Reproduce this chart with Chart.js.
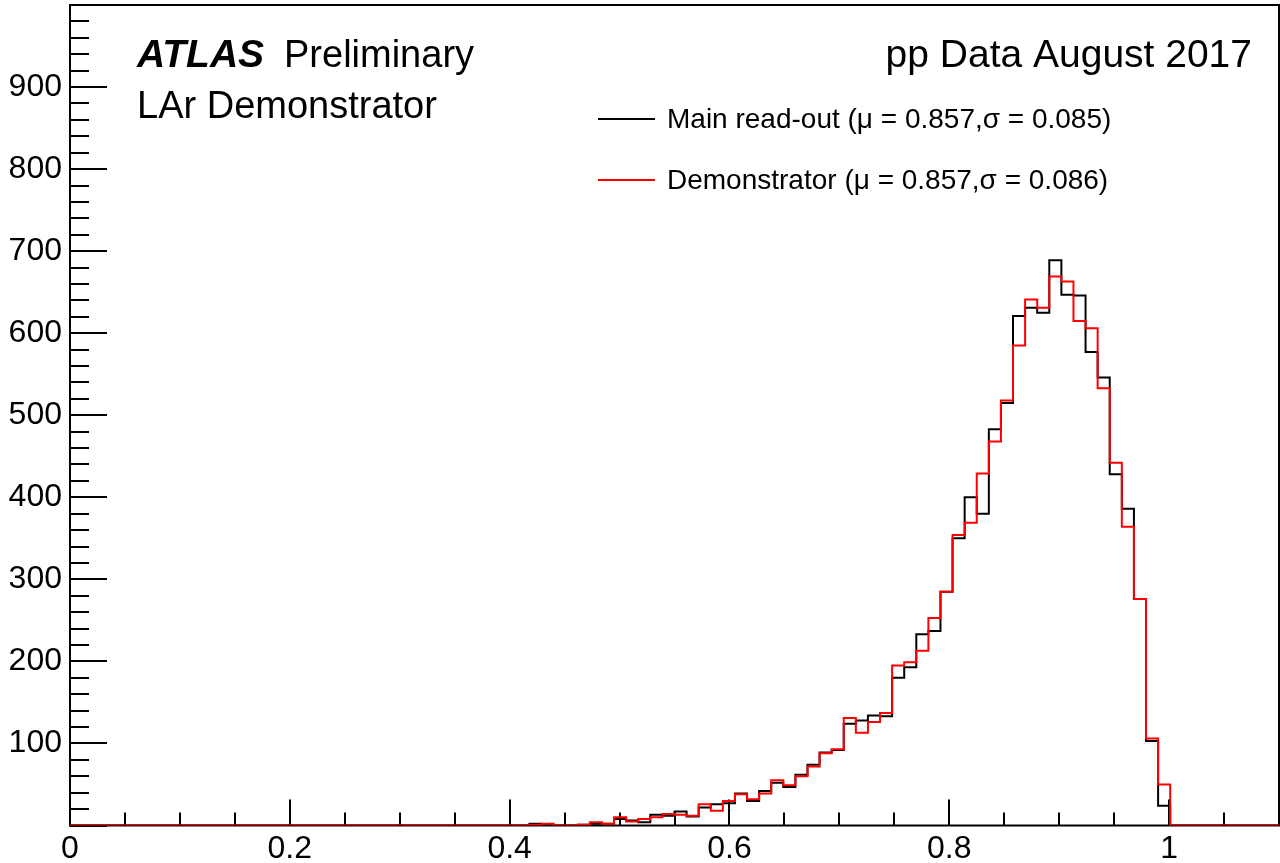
<!DOCTYPE html>
<html>
<head>
<meta charset="utf-8">
<script src="https://cdn.jsdelivr.net/npm/chart.js@4.4.1/dist/chart.umd.min.js"></script>
<style>
  html, body { margin: 0; padding: 0; background: #fff; }
  #wrap { width: 1280px; height: 863px; position: relative; }
</style>
</head>
<body>
<div id="wrap"><canvas id="hist"></canvas></div>
<script>
// histogram binning: 100 bins from 0 to 1.1
const binLow = 0;
const binWidth = 0.011;

// bin contents, bin 0 .. bin 99
const mainReadout = [
    0, 0, 0, 0, 0, 0, 0, 0, 0, 0,
    0, 0, 0, 0, 0, 0, 0, 0, 0, 0,
    0, 0, 0, 0, 0, 0, 0, 0, 0, 0,
    0, 0, 0, 0, 0, 0, 0, 0, 2, 1,
    0, 0, 1, 2, 2, 8, 6, 4, 13, 12,
    17, 11, 22, 26, 27, 39, 30, 42, 52, 47,
    62, 74, 89, 92, 124, 128, 134, 133, 180, 193,
    233, 237, 285, 350, 400, 380, 483, 515, 621, 631,
    625, 689, 647, 646, 577, 546, 428, 386, 276, 103,
    24, 0, 0, 0, 0, 0, 0, 0, 0, 0
];
const demonstrator = [
    0, 0, 0, 0, 0, 0, 0, 0, 0, 0,
    0, 0, 0, 0, 0, 0, 0, 0, 0, 0,
    0, 0, 0, 0, 0, 0, 0, 0, 0, 0,
    0, 0, 0, 0, 0, 0, 0, 0, 1, 2,
    0, 0, 1, 4, 2, 10, 5, 8, 10, 14,
    13, 12, 26, 18, 30, 38, 32, 39, 55, 49,
    60, 72, 88, 93, 131, 113, 126, 137, 195, 199,
    213, 253, 285, 354, 369, 429, 468, 518, 585, 641,
    631, 669, 663, 615, 606, 533, 442, 364, 276, 106,
    50, 0, 0, 0, 0, 0, 0, 0, 0, 0
];

const xTickValues = [0, 0.2, 0.4, 0.6, 0.8, 1];
const xTickLabels = ["0", "0.2", "0.4", "0.6", "0.8", "1"];
const yTickValues = [100, 200, 300, 400, 500, 600, 700, 800, 900];
const yTickLabels = ["100", "200", "300", "400", "500", "600", "700", "800", "900"];

const legendLabels = [
    "Main read-out (\u03bc = 0.857,\u03c3 = 0.085)",
    "Demonstrator (\u03bc = 0.857,\u03c3 = 0.086)"
];

const FONT = "'Liberation Sans', Arial, Helvetica, sans-serif";

// left bin edges plus the upper edge of the last bin, drawn as steps
function toSteps(contents) {
    const pts = contents.map((v, i) => ({ x: binLow + i * binWidth, y: v }));
    pts.push({ x: binLow + contents.length * binWidth, y: contents[contents.length - 1] });
    return pts;
}

// ROOT-like frame with inward tick marks
const rootFrame = {
    id: "rootFrame",
    beforeDatasetsDraw(chart) {
        const { ctx, chartArea: a, scales: { x, y } } = chart;
        ctx.save();
        ctx.strokeStyle = "#000";
        ctx.lineWidth = 2;
        ctx.strokeRect(a.left, a.top, a.right - a.left, a.bottom - a.top);

        ctx.beginPath();
        for (let k = 0; k <= 22; k++) {
            const v = k * 0.05;
            const px = Math.round(x.getPixelForValue(v));
            const len = (k % 4 === 0) ? 26 : 13;
            ctx.moveTo(px, a.bottom);
            ctx.lineTo(px, a.bottom - len);
        }
        for (let k = 0; k <= 50; k++) {
            const v = k * 20;
            const py = Math.round(y.getPixelForValue(v));
            const len = (k % 5 === 0) ? 37 : 19;
            ctx.moveTo(a.left, py);
            ctx.lineTo(a.left + len, py);
        }
        ctx.stroke();
        ctx.restore();
    },
    afterDatasetsDraw(chart) {
        const { ctx } = chart;
        ctx.save();
        ctx.fillStyle = "#000";
        ctx.textBaseline = "alphabetic";

        ctx.font = "italic bold 39px " + FONT;
        ctx.fillText("ATLAS", 137, 67);
        ctx.font = "38px " + FONT;
        ctx.fillText("Preliminary", 284, 67);
        ctx.fillText("LAr Demonstrator", 137, 118);
        ctx.font = "39px " + FONT;
        ctx.textAlign = "right";
        ctx.fillText("pp Data August 2017", 1252, 67);

        // legend
        ctx.textAlign = "left";
        ctx.textBaseline = "middle";
        ctx.font = "28px " + FONT;
        const rows = [119, 180];
        const colors = ["#000000", "#ff0000"];
        rows.forEach((ry, i) => {
            ctx.strokeStyle = colors[i];
            ctx.lineWidth = 2;
            ctx.beginPath();
            ctx.moveTo(598, ry);
            ctx.lineTo(655, ry);
            ctx.stroke();
            ctx.fillText(legendLabels[i], 667, ry + 1);
        });
        ctx.restore();
    }
};

new Chart(document.getElementById("hist"), {
    type: "line",
    data: {
        datasets: [
            {
                label: legendLabels[0],
                data: toSteps(mainReadout),
                borderColor: "#000000",
                borderWidth: 2,
                stepped: true,
                pointRadius: 0,
                fill: false,
                order: 2
            },
            {
                label: legendLabels[1],
                data: toSteps(demonstrator),
                borderColor: "#ff0000",
                borderWidth: 2,
                stepped: true,
                pointRadius: 0,
                fill: false,
                order: 1
            }
        ]
    },
    options: {
        responsive: true,
        maintainAspectRatio: false,
        animation: false,
        layout: { padding: { top: 5, right: 1, left: 0, bottom: 0 } },
        plugins: {
            legend: { display: false },
            tooltip: { enabled: false }
        },
        scales: {
            x: {
                type: "linear",
                min: 0,
                max: 1.1,
                grid: { display: false, drawTicks: false },
                border: { display: false },
                afterBuildTicks: s => { s.ticks = xTickValues.map(v => ({ value: v })); },
                afterFit: s => { s.height = 37.5; s.paddingLeft = 0; s.paddingRight = 0; },
                ticks: {
                    padding: 4,
                    color: "#000",
                    font: { family: FONT, size: 32 },
                    maxRotation: 0,
                    callback: (v, i) => xTickLabels[i]
                }
            },
            y: {
                type: "linear",
                min: 0,
                max: 1000,
                grid: { display: false, drawTicks: false },
                border: { display: false },
                afterBuildTicks: s => { s.ticks = yTickValues.map(v => ({ value: v })); },
                afterFit: s => { s.width = 70; s.paddingTop = 0; s.paddingBottom = 0; },
                ticks: {
                    padding: 8,
                    color: "#000",
                    font: { family: FONT, size: 32 },
                    callback: (v, i) => yTickLabels[i]
                }
            }
        }
    },
    plugins: [rootFrame]
});
</script>
</body>
</html>
